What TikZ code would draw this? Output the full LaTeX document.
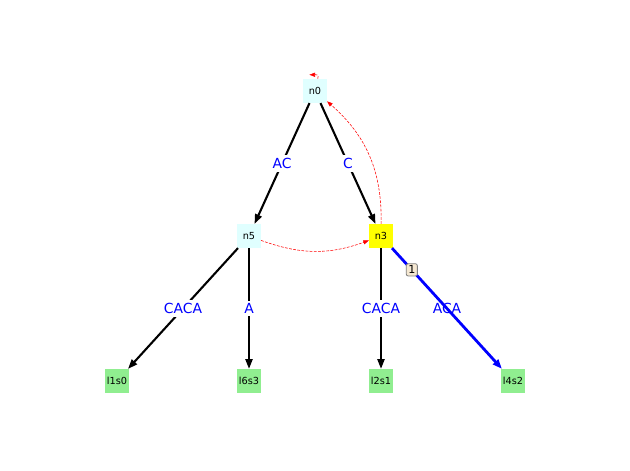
\documentclass[tikz,border=0pt]{standalone}
\usepackage{fontspec}
\setmainfont{DejaVu Sans}
\usetikzlibrary{arrows.meta}
\definecolor{clightcyan}{RGB}{224,255,255}
\definecolor{cyellow}{RGB}{255,255,0}
\definecolor{clightgreen}{RGB}{144,238,144}
\definecolor{cwheat}{RGB}{245,232,210}
\definecolor{cblue}{RGB}{0,0,255}
\definecolor{cred}{RGB}{255,0,0}
\tikzset{tree edge/.style={draw,-{Triangle[length=7pt,width=5pt]},line width=1.5pt,color=black},
  path edge/.style={draw,-{Triangle[length=7pt,width=5pt]},line width=2pt,color=cblue},
  link edge/.style={draw,-{Triangle[length=4pt,width=3pt]},dash pattern=on 2pt off 1pt,line width=0.4pt,color=cred},
  elabel/.style={fill=white,text=cblue,inner sep=2pt,font=\fontsize{10}{10}\selectfont}}

\begin{document}
\begin{tikzpicture}[x=0.72pt,y=-0.72pt]
\useasboundingbox (0,0) rectangle (630,470);
\begin{scope}[every node/.style={rectangle,minimum size=17pt,inner sep=0pt,font=\fontsize{7}{7}\selectfont}]
\node[fill=clightcyan] (n0) at (315,91) {n0};
\node[fill=clightcyan] (n5) at (249,236) {n5};
\node[fill=cyellow] (n3) at (381,236) {n3};
\node[fill=clightgreen] (l1s0) at (117,381) {l1s0};
\node[fill=clightgreen] (l6s3) at (249,381) {l6s3};
\node[fill=clightgreen] (l2s1) at (381,381) {l2s1};
\node[fill=clightgreen] (l4s2) at (513,381) {l4s2};
\end{scope}

\path[tree edge] (n0) -- (n5) node[midway, elabel] {AC};
\path[tree edge] (n0) -- (n3) node[midway, elabel] {C};
\path[tree edge] (n5) -- (l1s0) node[midway, elabel] {CACA};
\path[tree edge] (n5) -- (l6s3) node[midway, elabel] {A};
\path[tree edge] (n3) -- (l2s1) node[midway, elabel] {CACA};
\node[elabel, fill=none] (aca) at (447,308) {ACA};
\path[path edge] (n3) -- (l4s2) node[pos=0.18, draw=gray, line width=0.6pt, fill=cwheat,
  rounded corners=1.5pt, inner sep=1.5pt, text=black, font=\fontsize{8}{8}\selectfont] {1};

% suffix links
\path[link edge] (n5) to[bend right=20] (n3);
\path[link edge] (n3) to[bend right=25] (n0);
\path[link edge] ([xshift=2pt]n0.north) to[out=70,in=0,looseness=1.5] ([xshift=-4pt,yshift=3pt]n0.north);

\end{tikzpicture}
\end{document}
